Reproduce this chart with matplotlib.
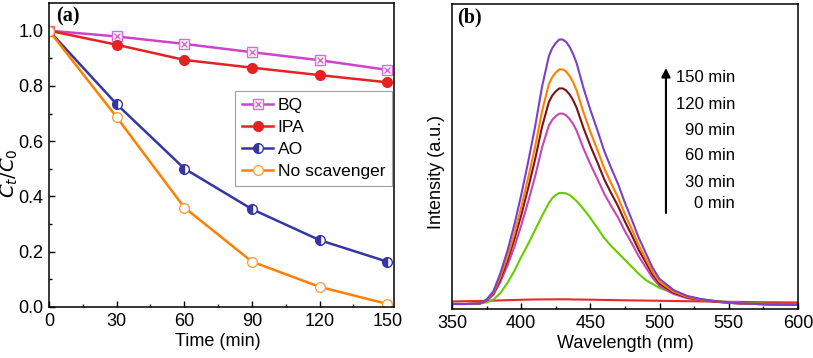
import numpy as np
import matplotlib.pyplot as plt
from matplotlib.lines import Line2D

plt.rcParams['font.family'] = ['Liberation Sans', 'DejaVu Sans']

# ---- panel (a): degradation with scavengers ----
time = [0, 30, 60, 90, 120, 150]
bq = [1.0, 0.979, 0.952, 0.922, 0.893, 0.858]
ipa = [1.0, 0.949, 0.894, 0.866, 0.839, 0.813]
ao = [1.0, 0.734, 0.501, 0.354, 0.242, 0.164]
no_scav = [1.0, 0.687, 0.360, 0.164, 0.073, 0.011]

# ---- panel (b): PL spectra (intensity in a.u.) ----
wl = [350, 360, 370, 375, 380, 385, 390, 395, 400, 405, 410, 415, 420, 422.5,
      425, 427.5, 430, 432.5, 435, 437.5, 440, 445, 450, 455, 460, 465, 470,
      475, 480, 485, 490, 495, 500, 510, 520, 530, 540, 550, 560, 580, 600]
pl_0 = [7.5, 7.8, 8.0, 8.2, 8.4, 8.6, 8.8, 9.0, 9.2, 9.4, 9.5, 9.6, 9.6, 9.6,
        9.7, 9.7, 9.7, 9.7, 9.6, 9.5, 9.5, 9.4, 9.3, 9.2, 9.0, 8.9, 8.8,
        8.7, 8.6, 8.5, 8.4, 8.3, 8.2, 8.0, 7.8, 7.6, 7.4, 7.2, 7.0, 6.7, 6.5]
pl_30 = [5, 5, 5.5, 6.5, 9.5, 16, 26, 38, 52, 65, 79, 93, 106, 111,
         114, 116, 116, 115.5, 114, 111, 108, 100, 91, 81, 71, 63, 56,
         49, 42, 35, 29, 25, 21, 16, 12.5, 9.5, 8, 7, 6, 5, 5]
pl_60 = [5, 5, 5.4, 8.2, 14.4, 27.3, 43.2, 61.9, 83.5, 107.2, 132.4, 161.2, 183.6, 189.3,
         192.9, 195.4, 195.4, 193.6, 190, 185, 178.5, 160.5, 144.7, 130.3, 115.2, 102.9, 91.4,
         77.7, 65.5, 52.5, 41.7, 30.9, 23, 15.1, 10.8, 8.6, 7.2, 6.1, 5.4, 4.6, 4.3]
pl_90 = [5, 5, 5.4, 8.7, 15.6, 30.3, 48.2, 69.4, 93.8, 120.7, 149.3, 181.9, 207.1, 213.6,
         217.7, 220.6, 220.6, 218.5, 214.5, 208.8, 201.4, 181, 163.1, 146.8, 129.7, 115.8, 102.8,
         87.3, 73.5, 58.8, 46.6, 34.3, 25.4, 16.4, 11.5, 9.1, 7.4, 6.2, 5.4, 4.6, 4.2]
pl_120 = [5, 5, 5.4, 9, 16.5, 32.5, 52, 75, 101.7, 131, 162, 197.5, 225, 232,
          236.5, 239.6, 239.6, 237.4, 233, 226.8, 218.8, 196.6, 177, 159.3, 140.7, 125.6, 111.4,
          94.6, 79.5, 63.5, 50.2, 37, 27.2, 17.4, 12.1, 9.4, 7.7, 6.3, 5.4, 4.6, 4.1]
pl_150 = [5, 5, 5.5, 9.5, 18, 36, 58, 84, 114, 147, 182, 222, 253, 261,
          266, 269.5, 269.5, 267, 262, 255, 246, 221, 199, 179, 158, 141, 125,
          106, 89, 71, 56, 41, 30, 19, 13, 10, 8, 6.5, 5.5, 4.5, 4]
time_labels = ['150 min', '120 min', '90 min', '60 min', '30 min', '0 min']

fig = plt.figure(figsize=(8.13, 3.58), dpi=100)
ax1 = fig.add_axes([0.0603, 0.1425, 0.4243, 0.8491])
ax2 = fig.add_axes([0.556, 0.1369, 0.4255, 0.8519])

# panel (a)
ax1.plot(time, bq, '-', color='#cc44cc', lw=1.8, marker='s', ms=6.5,
         mfc='white', mec='#dd66dd', mew=1)
ax1.plot(time, bq, ' ', marker='x', ms=5, mec='#dd66dd', mew=1)
ax1.plot(time, ipa, '-', color='#e52222', lw=1.8, marker='o', ms=7,
         mfc='#e52222', mec='#e52222')
ax1.plot(time, ao, '-', color='#3535a8', lw=1.8, marker='o', ms=7,
         fillstyle='left', mfc='#3535a8', mfcalt='white', mec='#3535a8', mew=1)
ax1.plot(time, no_scav, '-', color='#ff8000', lw=1.8, marker='o', ms=7,
         mfc='white', mec='#ffa040', mew=1)

h_bq = (Line2D([], [], color='#cc44cc', lw=1.8, marker='s', ms=6.5, mfc='white', mec='#dd66dd'),
        Line2D([], [], ls='', marker='x', ms=5, mec='#dd66dd'))
h_ipa = Line2D([], [], color='#e52222', lw=1.8, marker='o', ms=7)
h_ao = Line2D([], [], color='#3535a8', lw=1.8, marker='o', ms=7, fillstyle='left',
              mfc='#3535a8', mfcalt='white', mec='#3535a8')
h_no = Line2D([], [], color='#ff8000', lw=1.8, marker='o', ms=7, mfc='white', mec='#ffa040')
leg = ax1.legend([h_bq, h_ipa, h_ao, h_no], ['BQ', 'IPA', 'AO', 'No scavenger'],
                 loc='upper right', bbox_to_anchor=(0.995, 0.712), borderaxespad=0,
                 fancybox=False, edgecolor='#888888', fontsize=12.5, handlelength=1.8,
                 handletextpad=0.25, labelspacing=0.4, borderpad=0.4)
leg.get_frame().set_linewidth(0.8)

ax1.set_xlim(0, 153)
ax1.set_ylim(0, 1.1)
ax1.set_xticks(time)
ax1.set_xticks(np.arange(15, 153, 30), minor=True)
ax1.set_yticks([0, 0.2, 0.4, 0.6, 0.8, 1.0])
ax1.set_yticks([0.1, 0.3, 0.5, 0.7, 0.9], minor=True)
ax1.set_yticklabels(['0.0', '0.2', '0.4', '0.6', '0.8', '1.0'])
ax1.tick_params(direction='in', labelsize=13, length=4, width=1, pad=4)
ax1.tick_params(which='minor', direction='in', length=2.5, width=1)
ax1.set_xlabel('Time (min)', fontsize=13, labelpad=0)
ax1.xaxis.set_label_coords(0.488, -0.085)
ax1.set_ylabel('$C_t/C_0$', fontsize=14)
ax1.yaxis.set_label_coords(-0.085, 0.44)
ax1.text(0.022, 0.99, '(a)', transform=ax1.transAxes, ha='left', va='top',
         fontsize=14.5, fontweight='bold', family='Liberation Serif')

# panel (b)
spectra = [pl_0, pl_30, pl_60, pl_90, pl_120, pl_150]
colors = ['#e52a2a', '#66cc00', '#c845b8', '#7a1414', '#ff7f00', '#7b3fc8']
for s, c in zip(spectra, colors):
    ax2.plot(wl, s, color=c, lw=1.5)
ax2.set_xlim(350, 600)
ax2.set_ylim(0, 305)
ax2.set_xticks([350, 400, 450, 500, 550, 600])
ax2.set_xticks([375, 425, 475, 525, 575], minor=True)
ax2.set_yticks([])
ax2.tick_params(direction='in', labelsize=13, length=4, width=1, pad=4)
ax2.tick_params(which='minor', direction='in', length=2.5, width=1)
ax2.set_xlabel('Wavelength (nm)', fontsize=13)
ax2.xaxis.set_label_coords(0.5, -0.085)
ax2.set_ylabel('Intensity (a.u.)', fontsize=13)
ax2.yaxis.set_label_coords(-0.02, 0.45)
ax2.text(0.015, 0.99, '(b)', transform=ax2.transAxes, ha='left', va='top',
         fontsize=14.5, fontweight='bold', family='Liberation Serif')
ax2.annotate('', xy=(504.6, 241), xytext=(504.6, 96),
             arrowprops=dict(arrowstyle='-|>', color='black', lw=1.5,
                             mutation_scale=13, shrinkA=0, shrinkB=0))
label_y = [231.7, 205, 179, 153, 126.3, 105]
for t, yy in zip(time_labels, label_y):
    ax2.text(554.5, yy, t, ha='right', va='center', fontsize=12)

for ax in (ax1, ax2):
    for sp in ax.spines.values():
        sp.set_linewidth(1.1)

fig.savefig('out.png', dpi=100)
